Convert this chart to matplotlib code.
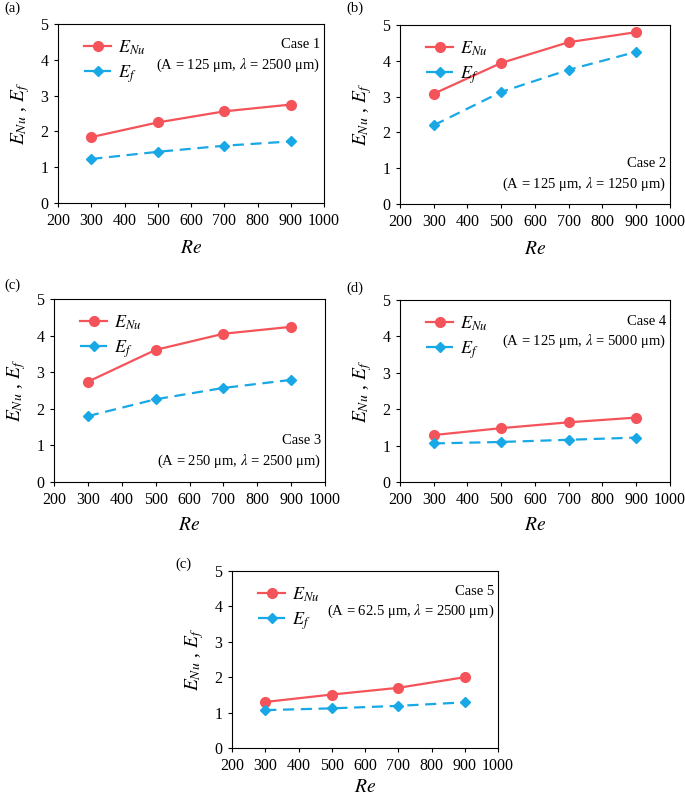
import matplotlib
matplotlib.use("Agg")
import matplotlib.pyplot as plt

plt.rcParams["font.family"] = ["Liberation Serif", "DejaVu Serif"]
plt.rcParams["mathtext.fontset"] = "stix"

re_values = [300, 500, 700, 900]

enu_case1 = [1.84, 2.25, 2.56, 2.75]
ef_case1 = [1.23, 1.43, 1.60, 1.72]
enu_case2 = [3.08, 3.94, 4.52, 4.80]
ef_case2 = [2.20, 3.13, 3.75, 4.25]
enu_case3 = [2.74, 3.61, 4.05, 4.24]
ef_case3 = [1.80, 2.26, 2.57, 2.79]
enu_case4 = [1.29, 1.48, 1.64, 1.77]
ef_case4 = [1.06, 1.10, 1.16, 1.22]
enu_case5 = [1.30, 1.51, 1.70, 2.00]
ef_case5 = [1.07, 1.12, 1.19, 1.29]

panel_tags = ["(a)", "(b)", "(c)", "(d)", "(c)"]
case_titles = [
    "Case 1\n(A = 125 μm, $\\lambda$ = 2500 μm)",
    "Case 2\n(A = 125 μm, $\\lambda$ = 1250 μm)",
    "Case 3\n(A = 250 μm, $\\lambda$ = 2500 μm)",
    "Case 4\n(A = 125 μm, $\\lambda$ = 5000 μm)",
    "Case 5\n(A = 62.5 μm, $\\lambda$ = 2500 μm)",
]

RED = "#F5535A"
BLUE = "#19A8E6"
W, H = 685, 800

# axes boxes in pixels: left, top, right, bottom
boxes = [
    (58, 24, 324, 203),
    (400, 25, 670, 204),
    (54, 299, 325, 482),
    (400, 300, 670, 482),
    (232, 571, 498, 748),
]
# label positions (pixels)
tag_pos = [(4, 8), (346, 8), (4, 285), (346, 288), (175, 564)]
text_top = [True, False, False, True, True]
re_pad = [8, 8, 7, 7, 4]

series = [
    (enu_case1, ef_case1),
    (enu_case2, ef_case2),
    (enu_case3, ef_case3),
    (enu_case4, ef_case4),
    (enu_case5, ef_case5),
]

fig = plt.figure(figsize=(W / 100, H / 100), dpi=100)

for i, (l, t, r, b) in enumerate(boxes):
    ax = fig.add_axes([l / W, 1 - b / H, (r - l) / W, (b - t) / H])
    enu, ef = series[i]
    ax.plot(re_values, enu, color=RED, lw=1.6, marker="o", ms=7,
            label="$E_{Nu}$")
    ax.plot(re_values, ef, color=BLUE, lw=1.6, ls=(0, (5, 3)), marker="D",
            ms=5, label="$E_f$")
    ax.set_xlim(200, 1000)
    ax.set_ylim(0, 5)
    ax.set_xticks(range(200, 1001, 100))
    ax.set_yticks(range(0, 6))
    ax.tick_params(labelsize=11.5, length=3, width=0.8, direction="out",
                   pad=4)
    for s in ax.spines.values():
        s.set_linewidth(0.8)
    ax.set_xlabel("$Re$", fontsize=14, labelpad=re_pad[i])
    ax.set_ylabel("$E_{Nu}$ , $E_f$", fontsize=14, labelpad=6)
    ax.legend(loc="upper left", bbox_to_anchor=(0.03, 1.02), frameon=False,
              fontsize=13, handlelength=1.5, handletextpad=0.4,
              labelspacing=0.35, borderpad=0.5)
    if text_top[i]:
        ax.text(0.985, 0.92, case_titles[i], transform=ax.transAxes,
                ha="right", va="top", fontsize=10.5, linespacing=1.4)
    else:
        ax.text(0.985, 0.26, case_titles[i], transform=ax.transAxes,
                ha="right", va="top", fontsize=10.5, linespacing=1.4)
    fig.text(tag_pos[i][0] / W, 1 - tag_pos[i][1] / H, panel_tags[i],
             fontsize=10.5, ha="left", va="center")

fig.savefig("out.png", dpi=100)
